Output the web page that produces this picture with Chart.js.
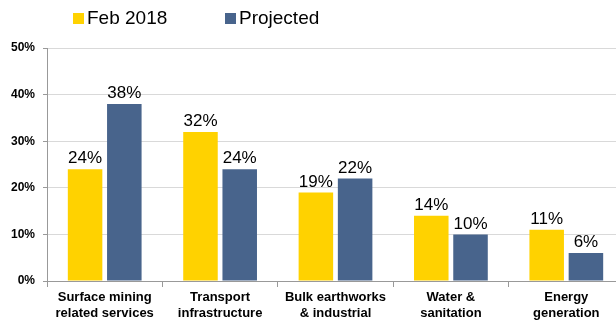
<!DOCTYPE html>
<html>
<head>
<meta charset="utf-8">
<script src="https://cdn.jsdelivr.net/npm/chart.js@4/dist/chart.umd.min.js"></script>
<style>
body { margin: 0; background: #fff; }
#wrap { position: relative; width: 616px; height: 322px; overflow: hidden; }
#legend { position: absolute; top: 7px; left: 73px; font: 19px "Liberation Sans", Arial, sans-serif; color: #000; }
#legend span.item { position: absolute; white-space: nowrap; top: 0; }
#legend span.box { display: inline-block; width: 11px; height: 11px; margin-right: 3px; vertical-align: 0px; }
</style>
</head>
<body>
<div id="wrap">
  <canvas id="mainChart" width="624" height="322"></canvas>
  <div id="legend"></div>
</div>
<script>
var categories = [['Surface mining', 'related services'], ['Transport', 'infrastructure'], ['Bulk earthworks', '& industrial'], ['Water &', 'sanitation'], ['Energy', 'generation']];
var seriesNames = ['Feb 2018', 'Projected'];
var febValues = [24, 32, 19, 14, 11];
var projectedValues = [38, 24, 22, 10, 6];
var yTicks = [0, 10, 20, 30, 40, 50];
var colors = ['#FFD200', '#48648C'];

// HTML legend
var legendEl = document.getElementById('legend');
var legendX = [0, 152];
seriesNames.forEach(function (name, i) {
    var s = document.createElement('span');
    s.className = 'item';
    s.style.left = legendX[i] + 'px';
    s.innerHTML = '<span class="box" style="background:' + colors[i] + '"></span>' + name;
    legendEl.appendChild(s);
});

var valueLabels = {
    id: 'valueLabels',
    afterDatasetsDraw: function (chart) {
        var ctx = chart.ctx;
        ctx.save();
        ctx.font = '17px "Liberation Sans", Arial, sans-serif';
        ctx.fillStyle = '#000';
        ctx.textAlign = 'center';
        ctx.textBaseline = 'bottom';
        chart.data.datasets.forEach(function (ds, di) {
            chart.getDatasetMeta(di).data.forEach(function (bar, i) {
                ctx.fillText(ds.data[i] + '%', bar.x, bar.y - 2);
            });
        });
        ctx.restore();
    }
};

var ctx = document.getElementById('mainChart').getContext('2d');
var mainChart = new Chart(ctx, {
    type: 'bar',
    data: {
        labels: categories,
        datasets: [{
            label: seriesNames[0],
            data: febValues,
            backgroundColor: colors[0],
            categoryPercentage: 0.68,
            barPercentage: 0.88
        }, {
            label: seriesNames[1],
            data: projectedValues,
            backgroundColor: colors[1],
            categoryPercentage: 0.68,
            barPercentage: 0.88
        }]
    },
    options: {
        responsive: false,
        animation: false,
        layout: { padding: { top: 48, right: 0, left: 0, bottom: 0 } },
        plugins: {
            legend: { display: false },
            tooltip: { enabled: false }
        },
        scales: {
            x: {
                grid: { offset: true, drawOnChartArea: false, tickLength: 6, color: '#999' },
                border: { color: '#999' },
                ticks: {
                    color: '#000',
                    font: { family: '"Liberation Sans", Arial, sans-serif', size: 13, weight: 'bold' },
                    padding: 3,
                    maxRotation: 0,
                    autoSkip: false
                },
                afterFit: function (scale) { scale.height = 41; }
            },
            y: {
                min: 0,
                max: 50,
                afterBuildTicks: function (scale) {
                    scale.ticks = yTicks.map(function (v) { return { value: v }; });
                },
                grid: { color: '#d9d9d9', tickColor: '#999', tickLength: 4 },
                border: { color: '#999' },
                ticks: {
                    color: '#000',
                    font: { family: '"Liberation Sans", Arial, sans-serif', size: 12, weight: 'bold' },
                    padding: 8,
                    callback: function (v) { return v + '%'; }
                },
                afterFit: function (scale) { scale.width = 47; }
            }
        }
    },
    plugins: [valueLabels]
});
</script>
</body>
</html>
